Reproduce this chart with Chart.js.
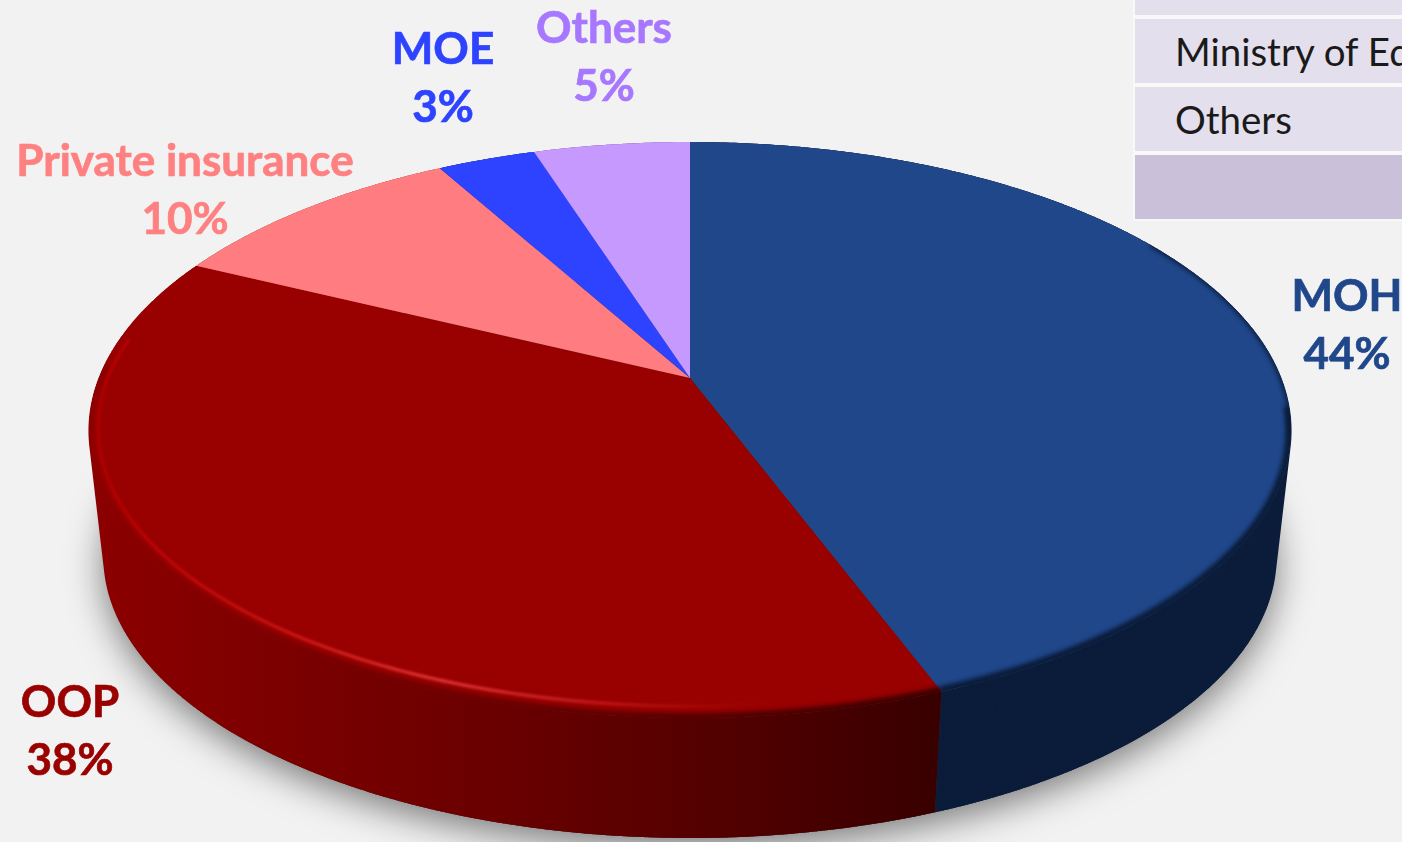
<!DOCTYPE html>
<html>
<head>
<meta charset="utf-8">
<title>Health financing by source</title>
<style>
  html,body{margin:0;padding:0;background:#f2f2f2;overflow:hidden;width:1402px;height:842px;}
  #pie{position:absolute;left:0;top:0;}
  #tbl{position:absolute;left:1133px;top:-51px;width:300px;border-collapse:collapse;background:#f8f8f8;
       font-family:Lato,sans-serif;font-size:38.5px;color:#1a1a1a;border:2px solid #f8f8f8;}
  #tbl td{height:64px;padding:0 0 0 40px;background:#e4dfec;border-bottom:4px solid #f8f8f8;white-space:nowrap;}
  #tbl tr.total td{background:#cbc0da;border-bottom:none;}
</style>
</head>
<body>
<canvas id="pie" width="1402" height="842"></canvas>
<table id="tbl">
  <tr><td>&nbsp;</td></tr>
  <tr><td>Ministry of Education</td></tr>
  <tr><td>Others</td></tr>
  <tr class="total"><td>&nbsp;</td></tr>
</table>
<script src="https://cdn.jsdelivr.net/npm/chart.js@4"></script>
<script>
const sources = ['MOH','OOP','Private insurance','MOE','Others'];
const shares  = [44.25, 37.9, 9.7, 3.15, 5];
const sliceColors = ['#1f478a','#990000','#ff7c80','#2d43ff','#c699ff'];
const textColors  = ['#1f478a','#990000','#ff8080','#2d43ff','#a778ff'];

// where each label block is centred, [x, y of first line]
const labelSpots = [[1347,297],[70,703],[185,162],[443,50],[604,29]];

// perspective of the disc
const CX = 690, APEX = 378, RX = 591, RY = 278.6, P = 0.1806;
const BASE_APEX = 506.5, BASE_F = 0.975;

function proj(a, base){
  const px = Math.cos(a), py = Math.sin(a);
  const s = 1 / (1 - P * py);
  const f = base ? BASE_F : 1;
  return [CX + RX * px * s * f, (base ? BASE_APEX : APEX) + RY * py * s * f];
}

function trace(ctx, a0, a1, base, move){
  const n = Math.max(2, Math.ceil(Math.abs(a1 - a0) / 0.01));
  for(let i = 0; i <= n; i++){
    const q = proj(a0 + (a1 - a0) * i / n, base);
    if(i === 0 && move) ctx.moveTo(q[0], q[1]); else ctx.lineTo(q[0], q[1]);
  }
}

function hGrad(ctx, x0, x1, stops){
  const g = ctx.createLinearGradient(x0, 0, x1, 0);
  stops.forEach(s => g.addColorStop(s[0], s[1]));
  return g;
}

const disc3d = {
  id: 'disc3d',
  // arcs come from the library, only the drawing is projected
  beforeDatasetDraw(chart, args){
    const ctx = chart.ctx;
    const arcs = args.meta.data;
    ctx.save();

    // soft shadow under the base
    ctx.save();
    ctx.shadowColor = 'rgba(0,0,0,0.5)';
    ctx.shadowBlur = 36;
    ctx.shadowOffsetY = 10;
    ctx.fillStyle = '#333';
    ctx.beginPath();
    trace(ctx, 0, Math.PI * 2, true, true);
    ctx.closePath();
    ctx.fill();
    ctx.restore();

    // side wall, swept so the outline follows the tangent between rim and base
    const wallFill = [
      '#0b1c3a',
      hGrad(ctx, 88, 940, [[0,'#8c0000'],[0.25,'#7a0000'],[0.5,'#680000'],[0.75,'#520000'],[1,'#380000']]),
      '#b05050','#1a2590','#7a5ca0'
    ];
    arcs.forEach((arc, i) => {
      ctx.beginPath();
      trace(ctx, arc.startAngle, arc.endAngle, false, true);
      trace(ctx, arc.endAngle, arc.startAngle, true, false);
      ctx.closePath();
      ctx.fillStyle = wallFill[i];
      ctx.fill();
      ctx.strokeStyle = wallFill[i];
      ctx.lineWidth = 1.5;
      ctx.beginPath();
      for(let a = arc.startAngle + 0.008; a < arc.endAngle - 0.008; a += 0.004){
        const t = proj(a, false), b = proj(a, true);
        ctx.moveTo(t[0], t[1]);
        ctx.lineTo(b[0], b[1]);
      }
      ctx.stroke();
    });

    // top face
    arcs.forEach((arc, i) => {
      ctx.beginPath();
      ctx.moveTo(CX, APEX);
      trace(ctx, arc.startAngle, arc.endAngle, false, false);
      ctx.closePath();
      ctx.fillStyle = sliceColors[i];
      ctx.fill();
    });

    // bevel along the front edge, kept inside the top face
    const moh = arcs[0], oop = arcs[1];
    ctx.save();
    ctx.beginPath();
    trace(ctx, 0, Math.PI * 2, false, true);
    ctx.closePath();
    ctx.clip();

    ctx.filter = 'blur(2px)';
    ctx.strokeStyle = '#0b1c3a';
    ctx.lineWidth = 4;
    ctx.beginPath();
    trace(ctx, -0.55, 0.2, false, true);
    ctx.stroke();
    ctx.lineWidth = 11;
    ctx.beginPath();
    trace(ctx, 0.1, moh.endAngle, false, true);
    ctx.stroke();
    ctx.lineWidth = 10;
    ctx.strokeStyle = hGrad(ctx, 88, 940, [[0,'#8c0000'],[0.5,'#680000'],[0.75,'#520000'],[1,'#380000']]);
    ctx.beginPath();
    trace(ctx, moh.endAngle, Math.PI + 0.05, false, true);
    ctx.stroke();

    ctx.filter = 'blur(1.2px)';
    ctx.lineWidth = 3.5;
    ctx.strokeStyle = hGrad(ctx, 90, 820, [[0,'rgba(190,0,0,0.5)'],[0.08,'#b80404'],[0.3,'#c81616'],[0.48,'#d83030'],[0.72,'#b81212'],[1,'rgba(153,0,0,0)']]);
    ctx.beginPath();
    for(let a = oop.startAngle + 0.1; a <= Math.PI + 0.15; a += 0.01){
      const q = proj(a, false);
      ctx.lineTo(CX + (q[0] - CX) * 0.985, APEX + (q[1] - APEX) * 0.965);
    }
    ctx.stroke();
    ctx.restore();

    ctx.restore();
    return false;
  },
  afterDraw(chart){
    const ctx = chart.ctx;
    const data = chart.data.datasets[0].data;
    const total = data.reduce((a, b) => a + b, 0);
    ctx.save();
    ctx.font = 'bold 44px Lato, sans-serif';
    ctx.textAlign = 'center';
    ctx.textBaseline = 'middle';
    ctx.lineWidth = 0.7;
    data.forEach((v, i) => {
      ctx.fillStyle = ctx.strokeStyle = textColors[i];
      const lines = [chart.data.labels[i], Math.round(v / total * 100) + '%'];
      lines.forEach((t, k) => {
        ctx.fillText(t, labelSpots[i][0], labelSpots[i][1] + k * 58);
        ctx.strokeText(t, labelSpots[i][0], labelSpots[i][1] + k * 58);
      });
    });
    ctx.restore();
  }
};

new Chart(document.getElementById('pie').getContext('2d'), {
  type: 'pie',
  data: { labels: sources, datasets: [{ data: shares, backgroundColor: sliceColors, borderWidth: 0 }] },
  options: {
    responsive: false,
    animation: false,
    plugins: { legend: { display: false }, tooltip: { enabled: false } }
  },
  plugins: [disc3d]
});
</script>
</body>
</html>
